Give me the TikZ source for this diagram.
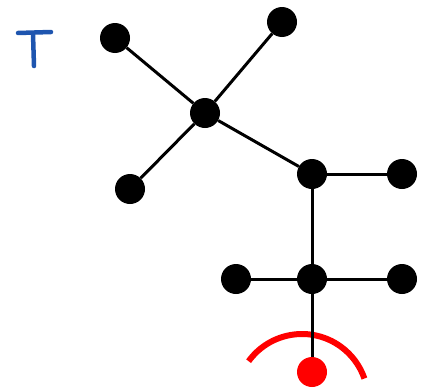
\documentclass[tikz,border=0pt]{standalone}
\begin{document}
\begin{tikzpicture}[x=1pt,y=-1pt,
  dot/.style={circle,fill=black,inner sep=0pt,minimum size=30pt},
  reddot/.style={circle,fill=red,inner sep=0pt,minimum size=30pt},
  edge/.style={line width=3pt},
  tstroke/.style={line width=4.5pt,line cap=round,color={rgb,255:red,30;green,85;blue,175}}]
\useasboundingbox (0,0) rectangle (427,388);
% hand-drawn T
\coordinate (t1) at (18,33);
\coordinate (t2) at (51,32);
\coordinate (t3) at (33,34);
\coordinate (t4) at (34,66);
\draw[tstroke] (t1) -- (t2);
\draw[tstroke] (t3) -- (t4);
% red arc
\coordinate (ac) at (302,400);
\draw[red,line width=6pt] (ac) ++(-144:66) arc[start angle=-144,end angle=-19,radius=66];
% nodes
\node[dot] (A) at (115,38) {};
\node[dot] (B) at (282,22) {};
\node[dot] (C) at (205,113) {};
\node[dot] (D) at (130,189) {};
\node[dot] (E) at (312,174) {};
\node[dot] (F) at (402,174) {};
\node[dot] (G) at (312,279) {};
\node[dot] (H) at (236,279) {};
\node[dot] (I) at (402,279) {};
\node[reddot] (J) at (312,372) {};
% edges
\draw[edge] (C) -- (A);
\draw[edge] (C) -- (B);
\draw[edge] (C) -- (D);
\draw[edge] (C) -- (E);
\draw[edge] (E) -- (F);
\draw[edge] (E) -- (G);
\draw[edge] (G) -- (H);
\draw[edge] (G) -- (I);
\draw[edge] (G) -- (J);
\end{tikzpicture}
\end{document}
